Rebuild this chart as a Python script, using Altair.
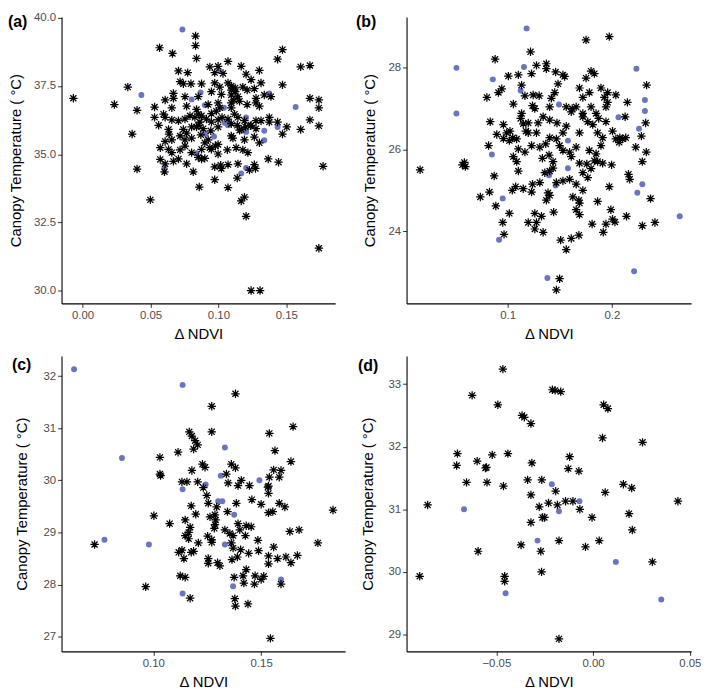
import altair as alt
import pandas as pd

FONT = "Liberation Sans"
STAR = "M-1,0L1,0M0,-1L0,1M-0.72,-0.72L0.72,0.72M-0.72,0.72L0.72,-0.72"
BLUE = "#6A74BF"
X_TITLE = "Δ NDVI"
Y_TITLE = "Canopy Temperature ( °C)"
PANEL_LABELS = ["(a)", "(b)", "(c)", "(d)"]

# ---------------- panel (a) ----------------
a_blue = [(0.0735, 39.57), (0.0433, 37.17), (0.0803, 37.01), (0.0869, 37.26), (0.0900, 36.80),
          (0.1005, 38.07), (0.1041, 36.70), (0.1046, 36.15), (0.1071, 36.06), (0.0905, 35.74),
          (0.0968, 35.65), (0.0839, 35.04), (0.0603, 34.50), (0.1204, 36.35), (0.1204, 35.82),
          (0.1338, 35.86), (0.1338, 35.51), (0.1375, 37.23), (0.1436, 36.00), (0.1569, 36.73),
          (0.1204, 34.50), (0.1168, 34.30)]
a_star = [(-0.0068, 37.05), (0.0234, 36.82), (0.0333, 37.46), (0.0365, 35.74), (0.0401, 36.61),
          (0.0401, 34.46), (0.0499, 33.33), (0.0530, 36.73), (0.0530, 36.35), (0.0567, 38.90),
          (0.0572, 35.24), (0.0572, 34.81), (0.0662, 38.69), (0.0832, 39.33), (0.0832, 38.98),
          (0.0839, 38.51), (0.0859, 33.80), (0.0973, 34.07), (0.1071, 38.40), (0.1071, 33.78),
          (0.1168, 38.22), (0.1192, 33.43), (0.1204, 32.73), (0.1168, 33.29), (0.1241, 30.01),
          (0.1307, 30.01), (0.1302, 38.07), (0.1436, 38.48), (0.1472, 38.83), (0.1472, 37.54),
          (0.1606, 38.20), (0.1674, 38.25), (0.1674, 37.05), (0.1674, 36.26), (0.1740, 36.99),
          (0.1740, 36.70), (0.1740, 36.04), (0.1771, 34.56), (0.1740, 31.56), (0.1606, 35.91),
          (0.1504, 36.00), (0.1472, 35.74), (0.1443, 34.71), (0.1367, 34.83), (0.1265, 34.62),
          (0.1273, 34.48), (0.1139, 34.13), (0.0973, 34.54),
          (0.0706, 38.05), (0.0774, 37.99), (0.0937, 38.20), (0.0998, 38.22), (0.0973, 37.99),
          (0.1034, 37.96), (0.0718, 37.66), (0.0742, 37.58), (0.0798, 37.58), (0.0876, 37.58),
          (0.0973, 37.61), (0.1010, 37.46), (0.1071, 37.61), (0.1095, 37.50), (0.1124, 37.43),
          (0.1180, 37.46), (0.1204, 37.93), (0.1241, 37.73), (0.1265, 37.40), (0.1314, 37.61),
          (0.0669, 37.23), (0.0669, 37.05), (0.0754, 37.11), (0.0852, 37.11), (0.0949, 37.29),
          (0.1022, 37.19), (0.1095, 37.17), (0.1114, 36.99), (0.1212, 37.35), (0.1277, 37.05),
          (0.1338, 37.17), (0.1387, 37.11), (0.0608, 36.99), (0.0657, 36.70), (0.0766, 36.76),
          (0.0839, 36.64), (0.0925, 36.82), (0.0998, 36.88), (0.1095, 36.88), (0.1212, 36.82),
          (0.1277, 36.88), (0.1302, 36.76), (0.0596, 36.47), (0.0608, 36.35), (0.0657, 36.26),
          (0.0706, 36.23), (0.0754, 36.29), (0.0791, 36.41), (0.0827, 36.35), (0.0852, 36.47),
          (0.0876, 36.41), (0.0912, 36.29), (0.0949, 36.18), (0.0998, 36.26), (0.1027, 36.35),
          (0.1071, 36.29), (0.1119, 36.47), (0.1144, 36.35), (0.1192, 36.23), (0.1241, 36.06),
          (0.1277, 36.23), (0.1375, 36.35), (0.1375, 36.18), (0.1314, 36.23), (0.0560, 36.06),
          (0.0633, 35.91), (0.0742, 35.91), (0.0803, 36.00), (0.0852, 36.06), (0.0888, 35.94),
          (0.0944, 35.86), (0.0998, 36.00), (0.1095, 36.12), (0.1139, 36.06), (0.1168, 35.91),
          (0.1236, 36.04), (0.1277, 35.94), (0.1436, 36.18), (0.0637, 35.74), (0.0754, 35.53),
          (0.0803, 35.59), (0.0871, 35.71), (0.0925, 35.53), (0.0998, 35.36), (0.1095, 35.67),
          (0.1107, 35.59), (0.1192, 35.53), (0.1265, 35.63), (0.1302, 35.42), (0.0608, 35.47),
          (0.0657, 35.53), (0.0718, 35.67), (0.0766, 35.77), (0.0633, 35.18), (0.0657, 35.06),
          (0.0718, 35.16), (0.0803, 35.06), (0.0876, 35.18), (0.0937, 35.24), (0.0978, 35.30),
          (0.0998, 35.01), (0.1066, 35.16), (0.1131, 35.24), (0.1180, 35.16), (0.1217, 35.06),
          (0.0852, 34.89), (0.0900, 34.85), (0.0608, 34.65), (0.0669, 34.74), (0.0706, 34.83),
          (0.0766, 34.65), (0.0815, 34.36), (0.0876, 34.83), (0.1017, 34.60), (0.1022, 34.48),
          (0.1071, 34.62), (0.1144, 34.65), (0.1229, 34.42), (0.0603, 34.36),
          (0.1095, 36.70), (0.1124, 37.29), (0.1144, 37.11), (0.1156, 36.94), (0.1095, 37.35),
          (0.1010, 36.70), (0.0949, 36.49), (0.0985, 36.58), (0.0864, 36.18), (0.0839, 36.00),
          (0.1156, 35.88), (0.1200, 36.00), (0.0900, 35.42), (0.0949, 35.18), (0.0754, 35.30)]

# ---------------- panel (b) ----------------
b_blue = [(0.1181, 28.94), (0.0508, 27.98), (0.0857, 27.70), (0.1156, 28.00), (0.0508, 26.87),
          (0.1124, 27.43), (0.0848, 25.87), (0.0952, 24.80), (0.0917, 23.80), (0.1397, 25.37),
          (0.1578, 25.54), (0.1578, 26.21), (0.1460, 25.12), (0.1492, 27.09), (0.1381, 22.87),
          (0.2213, 23.03), (0.2063, 26.78), (0.2317, 27.20), (0.2317, 26.93), (0.2260, 26.50),
          (0.2292, 25.15), (0.2244, 24.94), (0.2651, 24.37), (0.2235, 27.96)]
b_star = [(0.0159, 25.50), (0.0565, 25.62), (0.0594, 25.58), (0.0584, 25.68), (0.0737, 24.84),
          (0.0800, 27.26), (0.0816, 26.09), (0.0825, 24.96), (0.0832, 26.67), (0.0870, 25.35),
          (0.0879, 28.19), (0.0886, 24.62), (0.0911, 27.38), (0.0943, 27.47), (0.0959, 26.60),
          (0.0952, 24.22), (0.0965, 23.93), (0.1006, 27.78), (0.1016, 24.44), (0.1044, 25.00),
          (0.1054, 27.10), (0.1022, 26.44), (0.1102, 27.81), (0.1133, 27.56), (0.1165, 27.30),
          (0.1175, 26.44), (0.1197, 26.64), (0.1219, 28.37), (0.1229, 27.84), (0.1238, 27.06),
          (0.1244, 27.32), (0.1260, 26.99), (0.1276, 28.04), (0.1302, 27.30), (0.1371, 28.08),
          (0.1371, 27.96), (0.1403, 27.03), (0.1419, 27.24), (0.1451, 27.38), (0.1460, 27.88),
          (0.1483, 27.59), (0.1530, 27.81), (0.1546, 27.77), (0.1562, 27.03), (0.1610, 26.91),
          (0.1619, 26.99), (0.1657, 27.03), (0.1689, 27.49), (0.1721, 27.26), (0.1752, 28.66),
          (0.1752, 27.73), (0.1784, 27.38), (0.1800, 27.90), (0.1832, 27.84), (0.1927, 27.26),
          (0.1943, 27.03), (0.1959, 27.38), (0.1975, 28.74), (0.2038, 27.32), (0.2127, 26.79),
          (0.2149, 27.14), (0.2140, 24.37), (0.2159, 25.39), (0.2171, 25.27), (0.2229, 26.05),
          (0.2283, 26.32), (0.2292, 25.70), (0.2324, 26.64), (0.2330, 25.93), (0.2333, 27.56),
          (0.2371, 24.80), (0.2292, 24.14), (0.2413, 24.22), (0.1975, 25.09), (0.1997, 25.62),
          (0.1990, 24.53), (0.2006, 24.30), (0.2029, 24.23), (0.1943, 24.18), (0.1917, 23.98),
          (0.1863, 24.73), (0.1810, 24.18), (0.1784, 25.97), (0.1689, 24.41), (0.1689, 24.69),
          (0.1657, 24.53), (0.1683, 23.91), (0.1610, 23.83), (0.1562, 23.56), (0.1498, 22.85),
          (0.1467, 22.58), (0.1508, 23.79), (0.1441, 24.47), (0.1387, 24.94), (0.1371, 24.76),
          (0.1403, 24.88), (0.1340, 23.98), (0.1260, 24.06), (0.1260, 24.44), (0.1238, 25.15),
          (0.1229, 24.96), (0.1197, 24.22), (0.1149, 25.04), (0.1102, 25.47), (0.1086, 25.70),
          (0.1054, 25.82), (0.1016, 26.21), (0.0990, 26.40), (0.0959, 26.26), (0.0895, 26.36),
          (0.1076, 25.09), (0.1308, 25.19), (0.1333, 25.78), (0.1397, 25.86), (0.1435, 25.70),
          (0.1467, 26.25), (0.1498, 26.09), (0.1530, 25.97), (0.1594, 25.93), (0.1610, 25.82),
          (0.1657, 26.05), (0.1689, 25.66), (0.1721, 25.43), (0.1759, 25.64), (0.1800, 25.53),
          (0.1848, 25.89), (0.1895, 26.09), (0.1689, 26.40), (0.1562, 26.56), (0.1530, 26.40),
          (0.1473, 26.64), (0.1403, 26.28), (0.1365, 26.13), (0.1308, 26.05), (0.1276, 26.40),
          (0.1229, 26.09), (0.1165, 25.93), (0.1102, 26.01), (0.1086, 26.25), (0.1048, 26.28),
          (0.1133, 26.87), (0.1124, 26.75), (0.1149, 26.62), (0.1197, 26.40), (0.1292, 26.64),
          (0.1340, 26.79), (0.1403, 26.71), (0.1721, 26.79), (0.1768, 26.67), (0.1816, 26.60),
          (0.1863, 26.40), (0.1911, 26.28), (0.1943, 26.67), (0.2006, 26.44), (0.2038, 26.25),
          (0.2070, 26.17), (0.2102, 26.25), (0.1911, 25.66), (0.1863, 25.70), (0.1832, 25.72),
          (0.1768, 25.31), (0.1721, 25.00), (0.1657, 25.15), (0.1594, 25.27), (0.1530, 25.23),
          (0.1467, 25.19), (0.1403, 25.47), (0.1356, 25.43), (0.1435, 25.54), (0.1625, 24.84),
          (0.1683, 24.76), (0.1324, 24.37), (0.1276, 24.22), (0.2133, 26.28), (0.2076, 26.28),
          (0.1800, 27.03), (0.1848, 26.87), (0.1873, 26.75), (0.1959, 27.14), (0.1895, 27.49),
          (0.1721, 26.87)]

# ---------------- panel (c) ----------------
c_blue = [(0.0633, 32.13), (0.1136, 31.83), (0.0774, 28.86), (0.0855, 30.43), (0.0980, 28.77),
          (0.1136, 29.83), (0.1243, 29.92), (0.1313, 30.09), (0.1332, 30.63), (0.1301, 29.60),
          (0.1320, 29.60), (0.1375, 29.34), (0.1332, 28.77), (0.1492, 30.00), (0.1370, 27.97),
          (0.1136, 27.83), (0.1592, 28.10)]
c_star = [(0.0728, 28.77), (0.0965, 27.96), (0.1003, 29.32), (0.1031, 30.44), (0.1031, 30.12),
          (0.1034, 30.09), (0.1076, 29.17), (0.1115, 30.54), (0.1133, 29.97), (0.1148, 29.24),
          (0.1148, 28.94), (0.1156, 29.97), (0.1167, 30.93), (0.1179, 30.85), (0.1194, 30.76),
          (0.1206, 30.68), (0.1187, 30.60), (0.1179, 30.19), (0.1176, 29.51), (0.1171, 29.10),
          (0.1164, 29.00), (0.1164, 28.88), (0.1133, 28.66), (0.1125, 28.17), (0.1148, 28.14),
          (0.1176, 28.62), (0.1171, 27.74), (0.1187, 28.64), (0.1197, 29.35), (0.1206, 29.97),
          (0.1228, 30.31), (0.1232, 29.86), (0.1240, 30.25), (0.1248, 29.71), (0.1255, 29.56),
          (0.1252, 28.93), (0.1255, 28.50), (0.1255, 28.41), (0.1271, 31.42), (0.1271, 30.93),
          (0.1263, 29.30), (0.1271, 28.81), (0.1283, 29.08), (0.1286, 29.15), (0.1289, 29.24),
          (0.1286, 29.34), (0.1294, 29.49), (0.1298, 28.42), (0.1309, 28.36), (0.1332, 29.05),
          (0.1339, 30.12), (0.1344, 29.40), (0.1347, 29.95), (0.1355, 28.98), (0.1362, 30.31),
          (0.1362, 28.80), (0.1365, 28.48), (0.1370, 28.94), (0.1370, 28.70), (0.1375, 28.14),
          (0.1378, 27.73), (0.1381, 27.59), (0.1381, 31.66), (0.1381, 30.24), (0.1385, 29.56),
          (0.1390, 28.53), (0.1393, 29.17), (0.1393, 29.90), (0.1405, 28.67), (0.1416, 28.17),
          (0.1420, 28.03), (0.1427, 28.94), (0.1431, 29.13), (0.1439, 27.63), (0.1442, 28.60),
          (0.1446, 29.90), (0.1454, 29.11), (0.1457, 29.63), (0.1469, 28.01), (0.1472, 28.17),
          (0.1485, 28.85), (0.1488, 28.65), (0.1500, 29.54), (0.1512, 28.16), (0.1538, 30.90),
          (0.1538, 30.06), (0.1534, 29.89), (0.1534, 29.75), (0.1534, 29.38), (0.1534, 28.55),
          (0.1534, 28.40), (0.1543, 26.97), (0.1554, 29.40), (0.1558, 28.72), (0.1564, 30.57),
          (0.1558, 30.20), (0.1576, 28.50), (0.1584, 30.06), (0.1592, 28.01), (0.1610, 29.49),
          (0.1615, 28.53), (0.1633, 29.02), (0.1638, 30.36), (0.1638, 28.42), (0.1648, 31.03),
          (0.1668, 28.56), (0.1676, 29.05), (0.1763, 28.80), (0.1833, 29.43), (0.1118, 28.62),
          (0.1142, 28.50), (0.1209, 28.80), (0.1271, 28.86), (0.1401, 29.05), (0.1408, 30.00),
          (0.1431, 28.29), (0.1500, 28.10), (0.1531, 29.87), (0.1584, 29.56), (0.1592, 30.19)]

# ---------------- panel (d) ----------------
d_blue = [(-0.0667, 31.00), (-0.0452, 29.66), (-0.0287, 30.50), (-0.0213, 31.40), (-0.0176, 30.97),
          (-0.0070, 31.13), (0.0118, 30.16), (0.0353, 29.56)]
d_star = [(-0.0896, 29.93), (-0.0855, 31.07), (-0.0701, 31.89), (-0.0705, 31.70), (-0.0654, 31.43),
          (-0.0625, 32.82), (-0.0599, 31.77), (-0.0594, 30.33), (-0.0556, 31.66), (-0.0551, 31.67),
          (-0.0548, 31.43), (-0.0521, 31.87), (-0.0492, 32.67), (-0.0466, 33.24), (-0.0463, 31.37),
          (-0.0440, 31.89), (-0.0457, 29.93), (-0.0457, 29.85), (-0.0372, 30.43), (-0.0367, 32.50),
          (-0.0355, 32.47), (-0.0321, 32.37), (-0.0316, 31.74), (-0.0321, 31.23), (-0.0338, 31.47),
          (-0.0321, 30.79), (-0.0278, 31.04), (-0.0270, 30.33), (-0.0265, 31.47), (-0.0266, 30.00),
          (-0.0261, 30.87), (-0.0251, 30.87), (-0.0230, 31.10), (-0.0210, 32.91), (-0.0196, 32.90),
          (-0.0193, 31.29), (-0.0184, 31.07), (-0.0176, 30.50), (-0.0176, 28.93), (-0.0167, 32.88),
          (-0.0142, 31.13), (-0.0128, 31.65), (-0.0121, 31.84), (-0.0104, 31.13), (-0.0073, 31.61),
          (-0.0068, 31.00), (-0.0039, 30.40), (-0.0005, 30.87), (0.0032, 30.50), (0.0055, 32.67),
          (0.0077, 32.61), (0.0049, 32.14), (0.0063, 31.27), (0.0157, 31.40), (0.0186, 30.93),
          (0.0200, 31.34), (0.0203, 30.67), (0.0256, 32.07), (0.0307, 30.16), (0.0439, 31.13)]

# axis ticks / domains
a_xdom, a_ydom, a_xt, a_yt = [-0.0155, 0.186], [29.54, 40.03], [0.0, 0.05, 0.10, 0.15], [30.0, 32.5, 35.0, 37.5, 40.0]
b_xdom, b_ydom, b_xt, b_yt = [0.0029, 0.276], [22.25, 29.22], [0.1, 0.2], [24, 26, 28]
c_xdom, c_ydom, c_xt, c_yt = [0.0575, 0.1889], [26.72, 32.385], [0.10, 0.15], [27, 28, 29, 30, 31, 32]
d_xdom, d_ydom, d_xt, d_yt = [-0.0964, 0.0507], [28.73, 33.45], [-0.05, 0.0, 0.05], [29, 30, 31, 32, 33]


def panel(stars, blues, label, xdom, ydom, xt, yt, xfmt, yfmt, w, h, title_x, lab_x, lab_y):
    sdf = pd.DataFrame(stars, columns=["x", "y"])
    bdf = pd.DataFrame(blues, columns=["x", "y"])
    xenc = alt.X("x:Q", scale=alt.Scale(domain=xdom, nice=False, zero=False),
                 axis=alt.Axis(values=xt, format=xfmt, title=X_TITLE))
    yenc = alt.Y("y:Q", scale=alt.Scale(domain=ydom, nice=False, zero=False),
                 axis=alt.Axis(values=yt, format=yfmt, title=Y_TITLE, titleX=title_x))
    blue = alt.Chart(bdf).mark_circle(size=36, color=BLUE, opacity=1).encode(x=xenc, y=yenc)
    star = alt.Chart(sdf).mark_point(shape=STAR, size=72, filled=False, color="black",
                                     strokeWidth=1.25, opacity=1).encode(x=xenc, y=yenc)
    txt = alt.Chart(pd.DataFrame({"t": [label]})).mark_text(
        align="left", baseline="top", font=FONT, fontSize=16, fontWeight="bold", color="black"
    ).encode(x=alt.value(lab_x), y=alt.value(lab_y), text="t:N")
    return alt.layer(blue, star, txt).properties(width=w, height=h)


pa = panel(a_star, a_blue, PANEL_LABELS[0], a_xdom, a_ydom, a_xt, a_yt, ".2f", ".1f", 276, 289, -38, -54, -3)
pb = panel(b_star, b_blue, PANEL_LABELS[1], b_xdom, b_ydom, b_xt, b_yt, ".1f", "d", 287, 289, -29, -51, -3)
pc = panel(c_star, c_blue, PANEL_LABELS[2], c_xdom, c_ydom, c_xt, c_yt, ".2f", "d", 286, 298, -32, -50, 1)
pd_ = panel(d_star, d_blue, PANEL_LABELS[3], d_xdom, d_ydom, d_xt, d_yt, ".2f", "d", 287, 298, -31, -49, 2)

chart = alt.concat(pa, pb, pc, pd_, columns=2, spacing={"row": 53, "column": 62},
                   bounds="flush", padding=0).configure_view(stroke=None).configure_axis(
    grid=False, domainColor="black", domainWidth=1.1, tickColor="#333333", tickSize=4,
    tickWidth=1, labelColor="#4D4D4D", labelFont=FONT, labelFontSize=11.5, labelPadding=2,
    labelFlush=False, labelOverlap=False,
    titleFont=FONT, titleFontSize=15, titleFontWeight="normal", titleColor="black"
).configure_axisX(titlePadding=6)

chart.save("out.html", embed_options={"renderer": "svg", "actions": False})
